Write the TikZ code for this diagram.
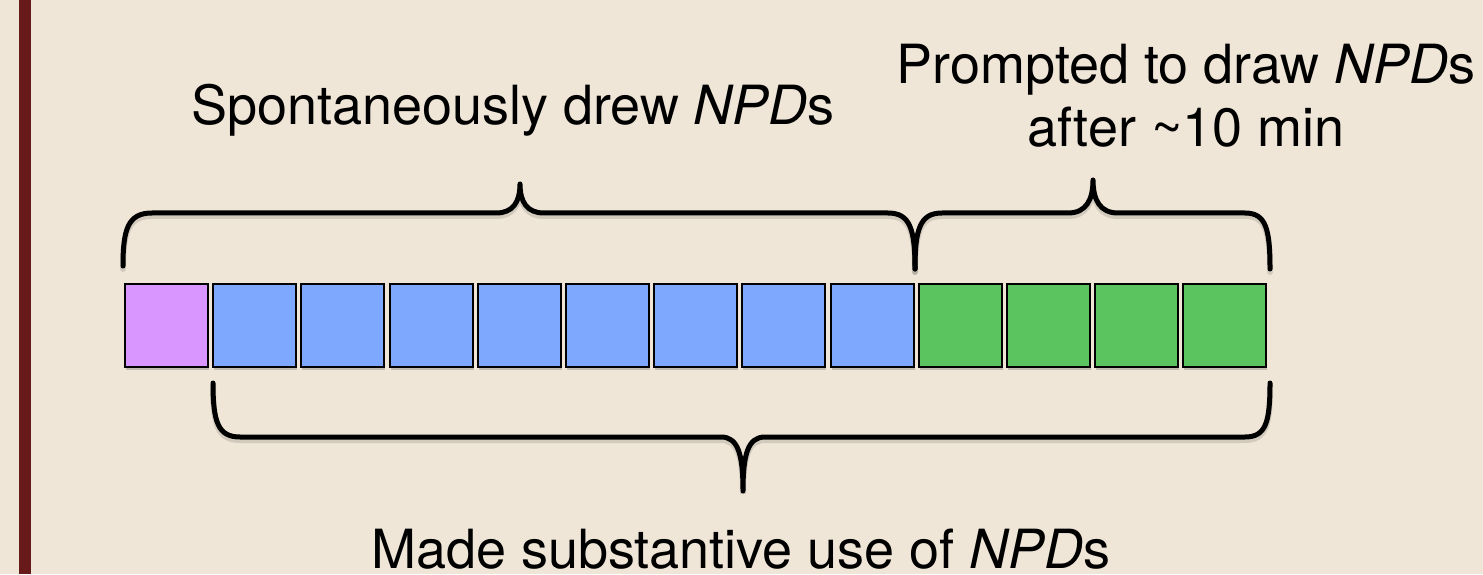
\documentclass[tikz,border=0pt]{standalone}
\usepackage{fontspec}
\setmainfont{TeX Gyre Heros}
\usetikzlibrary{shadows}
\definecolor{bg}{RGB}{239,230,216}
\definecolor{barred}{RGB}{104,26,26}
\definecolor{purp}{RGB}{216,150,254}
\definecolor{blu}{RGB}{126,168,254}
\definecolor{grn}{RGB}{91,196,94}
\begin{document}
\begin{tikzpicture}[x=1pt,y=1pt,
  cell/.style={draw=black, line width=2pt, minimum width=83pt, minimum height=83pt,
    inner sep=0pt, anchor=south west,
    drop shadow={shadow xshift=1pt, shadow yshift=-3pt, opacity=0.18, fill=black}},
  bracepath/.style={line width=5pt, line cap=round, line join=round},
  braceshadow/.style={line width=6pt, line cap=round, black, opacity=0.12},
  lbl/.style={font=\fontsize{54}{63}\selectfont, anchor=base, inner sep=0pt}]
\fill[bg] (0,0) rectangle (1483,574);
\useasboundingbox (0,0) rectangle (1483,574);
\fill[barred] (19,0) rectangle (31,574);

% cells
\foreach \i in {0,...,12}{
  \pgfmathsetmacro{\xx}{124+88.2*\i}
  \ifnum\i=0 \def\cc{purp}\else\ifnum\i<9 \def\cc{blu}\else\def\cc{grn}\fi\fi
  \node[cell, fill=\cc] (s\i) at (\xx,206) {};
}

% braces (shadow + stroke)
\def\braceA{(123,308) .. controls (123,345) and (128,361) .. (152,361)
  -- (496,361) .. controls (513,361) and (520,372) .. (520,390)
  .. controls (520,372) and (527,361) .. (544,361)
  -- (888,361) .. controls (910,361) and (915,345) .. (915,305)}
\def\braceB{(915,305) .. controls (915,345) and (920,361) .. (942,361)
  -- (1068,361) .. controls (1086,361) and (1093,374) .. (1093,394)
  .. controls (1093,374) and (1100,361) .. (1118,361)
  -- (1245,361) .. controls (1266,361) and (1270,345) .. (1270,305)}
\def\braceC{(213,191) .. controls (213,152) and (218,137) .. (240,137)
  -- (721,137) .. controls (738,137) and (743,120) .. (743,83)
  .. controls (743,120) and (748,137) .. (765,137)
  -- (1245,137) .. controls (1266,137) and (1270,152) .. (1270,191)}

\begin{scope}[yshift=-3pt]
\draw[braceshadow] \braceA;
\draw[braceshadow] \braceB;
\draw[braceshadow] \braceC;
\end{scope}
\draw[bracepath] \braceA;
\draw[bracepath] \braceB;
\draw[bracepath] \braceC;

% labels
\node[lbl] (t1) at (513,449) {Spontaneously drew \textit{NPD}s};
\node[lbl] (t2) at (1186,490) {Prompted to draw \textit{NPD}s};
\node[lbl] (t3) at (1186,427) {after \textasciitilde10 min};
\node[lbl] (t4) at (741,6) {Made substantive use of \textit{NPD}s};
\end{tikzpicture}
\end{document}
